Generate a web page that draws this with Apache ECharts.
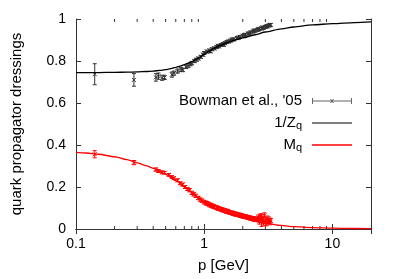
<!DOCTYPE html>
<html><head><meta charset="utf-8">
<script src="https://cdn.jsdelivr.net/npm/echarts@6/dist/echarts.min.js"></script>
<style>html,body{margin:0;padding:0;background:#fff}#c{width:399px;height:279px}</style>
</head><body><div id="c"></div>
<script>
// ---- data ----
const xTickLabels = ['0.1', '1', '10'];
const yTickLabels = ['0', '0.2', '0.4', '0.6', '0.8', '1'];
const minorTickValues = [0.2,0.3,0.4,0.5,0.6,0.7,0.8,0.9,2,3,4,5,6,7,8,9];

// Bowman et al. '05 lattice data for 1/Z_q : [p, value, error]
const bowmanZ = [
  [0.14,0.737,0.05],[0.283,0.71,0.03],[0.42,0.722,0.018],[0.44,0.728,0.015],[0.47,0.72,0.012],
  [0.49,0.722,0.01],[0.56,0.735,0.012],[0.58,0.742,0.01],[0.62,0.752,0.01],[0.66,0.76,0.01],
  [0.68,0.757,0.008],[0.72,0.772,0.008],[0.75,0.778,0.01],[0.78,0.785,0.008],[0.8,0.79,0.008],
  [0.84,0.8,0.008],[0.87,0.806,0.007],[0.9,0.812,0.007],[0.94,0.82,0.007],[0.98,0.83,0.007],
  [1.0,0.838,0.007],[1.05,0.845,0.007],[1.1,0.85,0.007],[1.12,0.846,0.007],[1.15,0.856,0.007],
  [1.2,0.86,0.007],[1.25,0.866,0.007],[1.28,0.872,0.007],[1.3,0.87,0.007],[1.35,0.876,0.007],
  [1.4,0.88,0.007],[1.42,0.877,0.007],[1.45,0.885,0.007],[1.5,0.89,0.007],[1.55,0.893,0.007],
  [1.6,0.897,0.007],[1.65,0.902,0.007],[1.7,0.903,0.007],[1.8,0.909,0.007],[1.85,0.911,0.007],
  [1.9,0.915,0.007],[2.0,0.92,0.007],[2.05,0.923,0.007],[2.1,0.925,0.007],[2.2,0.93,0.007],
  [2.25,0.931,0.007],[2.3,0.936,0.007],[2.4,0.94,0.007],[2.45,0.944,0.007],[2.5,0.945,0.007],
  [2.6,0.948,0.007],[2.65,0.951,0.007],[2.7,0.953,0.007],[2.8,0.955,0.007],[2.85,0.959,0.007],
  [2.9,0.958,0.007],[3.0,0.962,0.007],[3.05,0.964,0.007],[3.1,0.966,0.007],[3.2,0.969,0.007],
  [3.25,0.971,0.007],[3.3,0.972,0.007]
];

// Bowman et al. '05 lattice data for M_q : [p, value, error]
const bowmanM = [
  [0.14,0.356,0.017],[0.283,0.316,0.01],[0.42,0.283,0.008],[0.44,0.276,0.007],[0.47,0.27,0.007],
  [0.49,0.268,0.006],[0.53,0.258,0.006],[0.56,0.248,0.006],[0.58,0.242,0.006],[0.62,0.232,0.007],
  [0.65,0.218,0.007],[0.68,0.212,0.007],[0.71,0.2,0.007],[0.74,0.19,0.007],[0.77,0.185,0.008],
  [0.8,0.172,0.008],[0.83,0.165,0.008],[0.86,0.158,0.008],[0.9,0.148,0.008],[0.93,0.14,0.008],
  [0.96,0.135,0.008],[1.0,0.128,0.009],[1.03,0.124,0.009],[1.05,0.122,0.009],[1.08,0.119,0.009],
  [1.1,0.115,0.009],[1.13,0.113,0.009],[1.15,0.11,0.009],[1.18,0.108,0.009],[1.2,0.105,0.009],
  [1.25,0.102,0.009],[1.28,0.099,0.009],[1.3,0.098,0.009],[1.35,0.094,0.009],[1.38,0.092,0.009],
  [1.4,0.09,0.009],[1.45,0.088,0.009],[1.5,0.083,0.009],[1.52,0.085,0.009],[1.55,0.081,0.009],
  [1.6,0.078,0.009],[1.65,0.077,0.009],[1.7,0.074,0.009],[1.75,0.072,0.009],[1.8,0.07,0.009],
  [1.85,0.068,0.009],[1.9,0.066,0.009],[1.95,0.064,0.009],[2.0,0.062,0.009],[2.05,0.06,0.009],
  [2.1,0.059,0.009],[2.15,0.057,0.009],[2.2,0.055,0.009],[2.25,0.054,0.009],[2.3,0.052,0.009],
  [2.35,0.051,0.009],[2.4,0.05,0.009],[2.45,0.048,0.009],[2.5,0.046,0.01],[2.55,0.047,0.01],
  [2.6,0.045,0.01],[2.65,0.055,0.012],[2.7,0.035,0.012],[2.75,0.06,0.012],[2.8,0.042,0.03],
  [2.85,0.05,0.012],[2.9,0.03,0.012],[2.95,0.065,0.012],[3.0,0.04,0.012],[3.05,0.025,0.01],
  [3.1,0.05,0.012],[3.15,0.035,0.01],[3.2,0.045,0.012],[3.25,0.03,0.01],[3.3,0.04,0.01]
];

// DSE curves
const zqP   = [0.1,0.15,0.2,0.25,0.3,0.35,0.4,0.45,0.5,0.55,0.6,0.65,0.7,0.75,0.8,0.9,1.0,1.1,1.2,1.35,1.5,1.75,2,2.5,3,4,5,7,10,15,20];
const zqVal = [0.745,0.745,0.746,0.747,0.748,0.750,0.752,0.755,0.759,0.764,0.770,0.776,0.783,0.790,0.797,0.814,0.832,0.848,0.861,0.876,0.887,0.900,0.910,0.925,0.938,0.953,0.962,0.972,0.978,0.983,0.986];
const mqP   = [0.1,0.12,0.15,0.2,0.25,0.3,0.35,0.4,0.45,0.5,0.6,0.7,0.8,0.9,1.0,1.1,1.2,1.35,1.5,1.75,2,2.5,3,4,5,7,10,15,20];
const mqVal = [0.365,0.362,0.356,0.344,0.330,0.315,0.302,0.289,0.275,0.260,0.230,0.201,0.174,0.150,0.128,0.112,0.099,0.085,0.074,0.061,0.051,0.037,0.028,0.017,0.011,0.0065,0.004,0.0025,0.0015];

// ---- chart ----
const FONT = 'Liberation Sans';
const chart = echarts.init(document.getElementById('c'), null, {renderer: 'canvas'});

function errorBarRender(color) {
  return function (params, api) {
    const p = api.value(0), v = api.value(1), e = api.value(2);
    const c = api.coord([p, v]);
    const lo = api.coord([p, v - e]);
    const hi = api.coord([p, v + e]);
    const cap = 2, m = 2;
    const style = {stroke: color, lineWidth: 1, fill: null};
    return {
      type: 'group',
      children: [
        {type: 'line', shape: {x1: c[0], y1: lo[1], x2: c[0], y2: hi[1]}, style: style},
        {type: 'line', shape: {x1: c[0]-cap, y1: lo[1], x2: c[0]+cap, y2: lo[1]}, style: style},
        {type: 'line', shape: {x1: c[0]-cap, y1: hi[1], x2: c[0]+cap, y2: hi[1]}, style: style},
        {type: 'line', shape: {x1: c[0]-m, y1: c[1]-m, x2: c[0]+m, y2: c[1]+m}, style: style},
        {type: 'line', shape: {x1: c[0]-m, y1: c[1]+m, x2: c[0]+m, y2: c[1]-m}, style: style}
      ]
    };
  };
}

function minorTickRender(params, api) {
  const v = api.value(0);
  const b = api.coord([v, 0]);
  const t = api.coord([v, 1]);
  const style = {stroke: '#333', lineWidth: 1};
  return {
    type: 'group',
    children: [
      {type: 'line', shape: {x1: b[0], y1: b[1], x2: b[0], y2: b[1]-3}, style: style},
      {type: 'line', shape: {x1: t[0], y1: t[1], x2: t[0], y2: t[1]+3}, style: style}
    ]
  };
}

const isDecade = v => Math.abs(Math.log10(v) - Math.round(Math.log10(v))) < 1e-6;
const lineStyleAxis = {color: '#333', width: 1};

const bowmanIcon = 'path://M0,3.5L40,3.5L40,4.5L0,4.5Z M0,1L1,1L1,7L0,7Z M39,1L40,1L40,7L39,7Z M18,2L19,2L22,6L21,6Z M21,2L22,2L19,6L18,6Z';
const lineIcon = 'path://M0,0L40,0L40,1.5L0,1.5Z';

const option = {
  animation: false,
  grid: {left: 76, right: 28, top: 19, bottom: 50, containLabel: false},
  legend: {
    orient: 'vertical',
    align: 'right',
    right: 47,
    top: 93,
    padding: 0,
    itemWidth: 40,
    itemHeight: 8,
    itemGap: 5,
    selectedMode: false,
    textStyle: {
      fontFamily: FONT, fontSize: 15, color: '#000', padding: [0, 5, 0, 0], lineHeight: 16,
      rich: {sub: {fontFamily: FONT, fontSize: 11, verticalAlign: 'bottom', padding: [6, 0, 0, 0], lineHeight: 16}}
    },
    formatter: function (name) {
      if (name === '1/Zq') return '1/Z{sub|q}';
      if (name === 'Mq') return 'M{sub|q}';
      return name;
    },
    data: [
      {name: "Bowman et al., '05", icon: bowmanIcon, itemStyle: {color: '#666'}},
      {name: '1/Zq', icon: lineIcon, itemStyle: {color: '#555'}},
      {name: 'Mq', icon: lineIcon, itemStyle: {color: '#ff0000'}}
    ]
  },
  xAxis: [
    {
      type: 'log', logBase: 10, min: 0.1, max: 20, position: 'bottom',
      name: 'p [GeV]', nameLocation: 'middle', nameGap: 29,
      nameTextStyle: {fontFamily: FONT, fontSize: 15, color: '#000'},
      axisLine: {lineStyle: lineStyleAxis},
      axisTick: {inside: true, length: 5, lineStyle: lineStyleAxis},
      axisLabel: {
        fontFamily: FONT, fontSize: 14, color: '#000', margin: 8,
        showMaxLabel: false,
        formatter: v => isDecade(v) ? xTickLabels[Math.round(Math.log10(v)) + 1] : ''
      },
      splitLine: {show: false}
    },
    {
      type: 'log', logBase: 10, min: 0.1, max: 20, position: 'top',
      axisLine: {lineStyle: lineStyleAxis},
      axisTick: {inside: true, length: 5, lineStyle: lineStyleAxis},
      axisLabel: {show: false},
      splitLine: {show: false}
    }
  ],
  yAxis: [
    {
      type: 'value', min: 0, max: 1, interval: 0.2, position: 'left',
      name: 'quark propagator dressings', nameLocation: 'middle', nameGap: 52,
      nameTextStyle: {fontFamily: FONT, fontSize: 15, color: '#000'},
      axisLine: {show: true, lineStyle: lineStyleAxis},
      axisTick: {show: true, inside: true, length: 5, lineStyle: lineStyleAxis},
      axisLabel: {
        fontFamily: FONT, fontSize: 14, color: '#000', margin: 10,
        formatter: v => yTickLabels[Math.round(v / 0.2)]
      },
      splitLine: {show: false}
    },
    {
      type: 'value', min: 0, max: 1, interval: 0.2, position: 'right',
      axisLine: {show: true, lineStyle: lineStyleAxis},
      axisTick: {show: true, inside: true, length: 5, lineStyle: lineStyleAxis},
      axisLabel: {show: false},
      splitLine: {show: false}
    }
  ],
  series: [
    {
      name: 'minorTicks', type: 'custom', silent: true, clip: false,
      xAxisIndex: 0, yAxisIndex: 0,
      data: minorTickValues.map(v => [v, 0.5]), encode: {x: 0, y: 1},
      renderItem: minorTickRender, z: 1
    },
    {
      name: "Bowman et al., '05", type: 'custom', xAxisIndex: 0, yAxisIndex: 0,
      itemStyle: {color: '#333'},
      data: bowmanZ, encode: {x: 0, y: 1},
      renderItem: errorBarRender('#333'), z: 2
    },
    {
      name: 'bowmanM', type: 'custom', xAxisIndex: 0, yAxisIndex: 0,
      itemStyle: {color: '#ff0000'},
      data: bowmanM, encode: {x: 0, y: 1},
      renderItem: errorBarRender('#ff0000'), z: 2
    },
    {
      name: '1/Zq', type: 'line', xAxisIndex: 0, yAxisIndex: 0, smooth: 0.3, smoothMonotone: 'x',
      symbol: 'none', showSymbol: false,
      lineStyle: {color: '#000', width: 1.3}, itemStyle: {color: '#000'},
      data: zqP.map((p, i) => [p, zqVal[i]]), z: 3
    },
    {
      name: 'Mq', type: 'line', xAxisIndex: 0, yAxisIndex: 0, smooth: 0.3, smoothMonotone: 'x',
      symbol: 'none', showSymbol: false,
      lineStyle: {color: '#ff0000', width: 1.3}, itemStyle: {color: '#ff0000'},
      data: mqP.map((p, i) => [p, mqVal[i]]), z: 3
    }
  ]
};
chart.setOption(option);
</script>
</body></html>
